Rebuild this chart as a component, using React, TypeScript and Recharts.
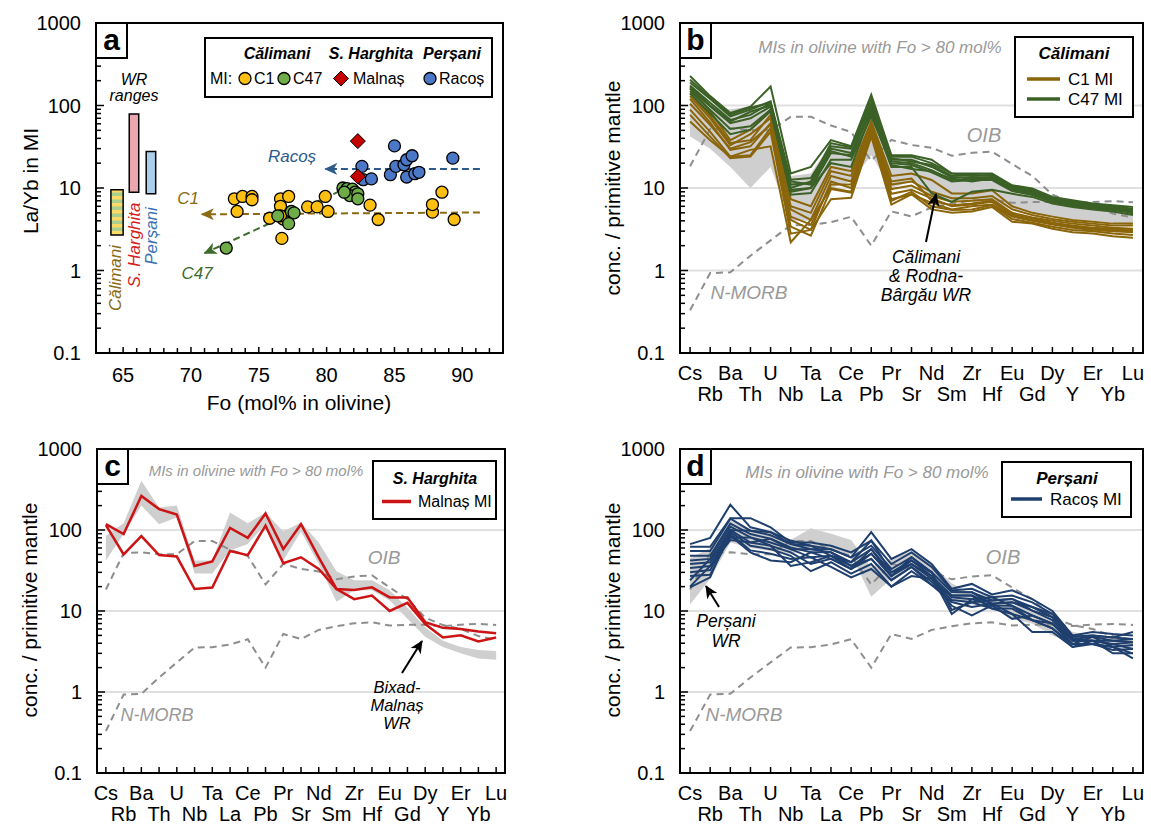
import React from 'react';
import {
  ComposedChart,
  ScatterChart,
  Scatter,
  Line,
  Area,
  XAxis,
  YAxis,
  CartesianGrid,
  ReferenceArea,
  ReferenceLine,
} from 'recharts';

const FONT = '"Liberation Sans", Arial, Helvetica, sans-serif';

// ---------------- Panel a : La/Yb vs Fo ----------------
const C1_FO = [73.2, 73.8, 74.5, 74.5, 73.4, 75.8, 76.6, 76.6, 77.2, 76.8, 76.7, 76.6, 78.6, 79.3, 79.9, 80.1, 83.2, 83.8, 87.8, 87.8, 88.5, 89.4];
const C1_LAYB = [7.4, 7.9, 7.9, 7.2, 5.2, 4.3, 7.4, 6.0, 7.9, 4.2, 2.45, 4.6, 5.9, 5.9, 7.9, 5.2, 6.2, 4.15, 5.1, 6.3, 8.9, 4.15];
const C47_FO = [72.6, 76.4, 77.4, 77.6, 77.2, 81.2, 81.5, 81.9, 82.1, 81.7, 82.3, 82.3, 81.3];
const C47_LAYB = [1.87, 4.6, 5.2, 5.0, 3.7, 10, 9.8, 9.7, 8.9, 8.1, 8.5, 7.4, 8.9];
const MALNAS_FO = [82.3, 82.3];
const MALNAS_LAYB = [37, 13.8];
const RACOS_FO = [82.6, 82.7, 83.3, 85.0, 84.7, 85.1, 85.7, 85.9, 86.3, 85.9, 86.5, 86.8, 89.3];
const RACOS_LAYB = [18.3, 12.6, 12.9, 32.4, 14.5, 18.3, 19.1, 22, 24.6, 13.6, 14.9, 15.5, 23];

// WR ranges: [Fo left, Fo right, La/Yb min, La/Yb max]
const WR_CALIMANI = [64.1, 65.0, 2.7, 9.5];
const WR_SHARGHITA = [65.45, 66.15, 8.9, 79];
const WR_PERSANI = [66.7, 67.4, 8.5, 27.7];

// Trend arrows: [Fo start, La/Yb start, Fo end, La/Yb end]
const TREND_RACOS = [91.3, 17, 79.9, 17];
const TREND_C1 = [91.3, 5.05, 70.8, 4.8];
const TREND_C47 = [81.7, 10.4, 71.0, 1.62];

const FO_TICKS = [64, 65, 66, 67, 68, 69, 70, 71, 72, 73, 74, 75, 76, 77, 78, 79, 80, 81, 82, 83, 84, 85, 86, 87, 88, 89, 90, 91, 92];
const LOG_TICKS = [0.1, 0.2, 0.3, 0.4, 0.5, 0.6, 0.7, 0.8, 0.9, 1, 2, 3, 4, 5, 6, 7, 8, 9, 10, 20, 30, 40, 50, 60, 70, 80, 90, 100, 200, 300, 400, 500, 600, 700, 800, 900, 1000];
const DECADES = [0.1, 1, 10, 100, 1000];
const DECADE_LABELS = ['0.1', '1', '10', '100', '1000'];

// ---------------- Spider diagrams ----------------
const ELEMENTS = ['Cs', 'Rb', 'Ba', 'Th', 'U', 'Nb', 'Ta', 'La', 'Ce', 'Pb', 'Pr', 'Sr', 'Nd', 'Sm', 'Zr', 'Hf', 'Eu', 'Gd', 'Dy', 'Y', 'Er', 'Yb', 'Lu'];
const IDX = [0, 1, 2, 3, 4, 5, 6, 7, 8, 9, 10, 11, 12, 13, 14, 15, 16, 17, 18, 19, 20, 21, 22];
const OIB = [18.4, 51.7, 53, 50.3, 50.2, 72.9, 73, 57.1, 47.8, 21.3, 38.2, 33.2, 30.8, 24.6, 26.7, 27.6, 19.5, 14, 8.3, 6.7, 6.0, 4.9, 4.4];
const NMORB = [0.33, 0.93, 0.95, 1.51, 2.32, 3.54, 3.57, 3.86, 4.48, 2.0, 5.2, 4.52, 5.84, 6.48, 7.05, 7.24, 6.62, 6.76, 6.75, 6.51, 6.78, 6.92, 6.74];

// panel b : Călimani
const B_WR_LO = [42, 30, 18, 10, 18, 4, 4, 10, 12, 25, 10, 12, 8, 7, 7, 7, 5.5, 5, 4.5, 4.2, 4, 3.8, 3.5];
const B_WR_HI = [150, 100, 90, 97, 110, 14, 15, 35, 30, 110, 22, 25, 16, 13, 13, 12, 9.5, 8.5, 7, 6, 6, 5.5, 5.3];
const C1_MI = [
  [162, 85, 38, 51, 89, 7.3, 6, 18, 16, 65, 14, 15, 12.5, 8.6, 8.6, 9.4, 6, 5, 4.5, 4.1, 3.9, 3.7, 3.7],
  [141, 75, 35, 38, 77, 5.5, 4.1, 14, 12, 58, 11, 12, 9, 7.5, 7.5, 8, 5.5, 4.7, 4.2, 3.9, 3.7, 3.5, 3.5],
  [120, 62, 29, 32, 61, 4.1, 3.1, 12, 10, 52, 9.7, 10.7, 8, 6.8, 7, 7.3, 5, 4.4, 4.0, 3.7, 3.5, 3.3, 3.2],
  [89, 48, 24, 25, 53, 3.4, 2.65, 9.7, 8.8, 46, 7.3, 8.4, 6.6, 5.5, 6, 6.3, 4.5, 4.0, 3.6, 3.3, 3.1, 3.0, 2.9],
  [77, 42, 23, 24, 48, 2.8, 3.1, 7.3, 7.6, 42, 6.3, 8.4, 5.5, 5.0, 5.2, 5.9, 3.9, 3.7, 3.2, 2.9, 2.8, 2.6, 2.5],
  [64, 38, 24, 29, 32, 2.2, 4.1, 10, 9, 48, 7, 9, 6, 5.4, 5.5, 6.2, 4.2, 3.8, 3.4, 3.1, 3.0, 2.8, 2.7],
  [130, 70, 33, 45, 70, 6, 5, 16, 14, 60, 12, 13, 7, 6.2, 6.5, 7, 4.8, 4.3, 3.8, 3.5, 3.3, 3.2, 3.1],
  [105, 58, 30, 36, 58, 4.5, 3.6, 11, 11, 50, 8.5, 9.5, 7.5, 6, 6.3, 6.8, 4.6, 4.1, 3.7, 3.4, 3.2, 3.1, 3.0],
];
const C47_MI = [
  [228, 130, 81, 97, 170, 15, 18, 38, 32, 135, 25, 25, 22, 15, 15, 15, 10.8, 9.9, 7.8, 7.1, 6.5, 6.2, 5.9],
  [190, 120, 74, 89, 112, 12.6, 13.2, 32, 30, 107, 24, 24, 20, 15, 14, 14.5, 10.5, 9.5, 7.5, 6.9, 6.3, 6.0, 5.6],
  [175, 108, 67, 77, 107, 11, 11.5, 30, 26.5, 97, 22, 22, 18, 13.5, 13.5, 13.5, 10, 9, 7.2, 6.6, 6.1, 5.8, 5.4],
  [160, 98, 61, 70, 97, 9.5, 10, 26.5, 25, 85, 21, 20, 16.5, 12.5, 13, 12.8, 9.5, 8.5, 7, 6.3, 5.9, 5.6, 5.2],
  [150, 88, 52, 56, 89, 8.3, 8.7, 22, 22, 74, 20, 19, 15.5, 12, 12.5, 12.5, 9.2, 8.2, 6.8, 6.1, 5.7, 5.4, 5.0],
  [140, 80, 45, 51, 85, 9, 10, 20, 18, 80, 18, 18, 8.6, 6.8, 9, 9.5, 8.5, 7.8, 6.5, 5.9, 5.5, 5.2, 4.7],
  [205, 125, 78, 94, 108, 10, 12, 35, 31, 120, 23, 21, 19, 14, 14.5, 14, 10.2, 9.2, 7.4, 6.8, 6.2, 6.0, 5.5],
  [170, 100, 64, 84, 100, 12, 11, 28, 24, 92, 19, 17, 16, 13, 12, 13, 9.8, 8.8, 7.0, 6.4, 6.0, 5.7, 4.9],
];

// panel c : S. Harghita
const C_WR_LO = [42, 89, 200, 118, 143, 29, 29, 56, 67, 118, 42, 96, 38, 13, 18, 18, 13.5, 8, 4.8, 3.6, 3.0, 2.6, 2.5];
const C_WR_HI = [85, 121, 405, 190, 200, 42, 42, 165, 121, 165, 96, 124, 70, 31, 24, 24, 18, 11, 6.3, 4.3, 3.6, 3.3, 3.2];
const MALNAS_MI = [
  [118, 89, 263, 181, 155, 36, 41, 106, 80, 160, 58, 118, 46, 18.7, 18.2, 19.6, 14.7, 14.7, 7.3, 6.2, 6.0, 5.6, 5.3],
  [115, 50, 84, 49, 47, 18.7, 19.5, 55, 49, 113, 39, 46, 33, 18.7, 14, 15.5, 10, 12.6, 6.9, 4.7, 5.0, 4.2, 4.7],
];

// panel d : Perșani
const D_WR_LO = [12, 25, 70, 60, 55, 50, 60, 55, 50, 15, 25, 35, 22, 14, 12, 11, 8, 7, 5, 4, 4, 3.6, 3.5];
const D_WR_HI = [45, 60, 130, 100, 100, 75, 105, 90, 75, 35, 45, 55, 38, 22, 16, 16, 12, 10, 8, 5.5, 5, 4.8, 4.5];
const RACOS_MI = [
  [67, 80, 205, 108, 94, 74, 64, 58, 46, 94, 44, 58, 38, 18.8, 21.6, 16, 18, 14, 10, 5.0, 5.5, 5.2, 5.0],
  [62, 62, 140, 140, 108, 70, 70, 64, 53, 74, 38, 53, 35, 17.9, 18.8, 14.8, 15.5, 12.8, 9.2, 4.8, 5.0, 4.7, 5.5],
  [55, 55, 138, 98, 86, 67, 58, 58, 46, 64, 33, 46, 30, 17.1, 17, 13.5, 14.1, 11.2, 8.4, 4.5, 4.8, 4.3, 4.5],
  [48, 48, 120, 89, 78, 61, 53, 53, 40, 58, 30, 42, 27, 15.5, 15.5, 12.3, 12.8, 10.1, 7.7, 4.3, 4.3, 3.9, 4.1],
  [42, 44, 110, 81, 70, 58, 46, 48, 36, 51, 27, 38, 25, 14.8, 14, 11.7, 11.6, 8.8, 7.0, 3.9, 3.9, 3.6, 3.8],
  [38, 40, 100, 70, 64, 53, 38, 44, 33, 44, 24, 35, 23, 13.7, 12.8, 10.7, 10.7, 7.7, 6.1, 3.6, 3.9, 3.3, 3.4],
  [34, 36, 95, 64, 58, 48, 31, 40, 29, 38, 20, 31, 21, 12.9, 11.2, 12.3, 9.2, 5.5, 5.5, 3.6, 4.3, 3.0, 3.0],
  [30, 32, 90, 56, 51, 44, 46, 35, 26, 33, 20, 27, 25, 11.6, 8.8, 11.7, 8.0, 8.8, 7.0, 3.9, 4.8, 3.6, 2.6],
  [27, 28, 85, 53, 42, 40, 53, 44, 33, 58, 27, 46, 30, 10.3, 12.8, 13.5, 14.1, 10.1, 8.4, 4.5, 4.3, 4.3, 4.1],
  [24, 44, 80, 81, 64, 36, 40, 48, 40, 74, 30, 38, 27, 9.2, 14, 14.8, 11.6, 7.7, 6.1, 3.9, 3.9, 3.6, 3.0],
  [20, 36, 75, 70, 78, 58, 58, 53, 36, 44, 24, 35, 21, 15.5, 15.5, 10.7, 9.2, 7.7, 7.0, 4.3, 4.3, 3.9, 3.4],
  [19.6, 26, 100, 98, 94, 67, 64, 48, 33, 51, 27, 42, 30, 17.1, 17, 12.3, 12.8, 11.2, 9.2, 4.8, 5.0, 4.7, 4.5],
];

// ---------------- colours ----------------
const COL_C1 = '#8a650a';
const COL_C47 = '#3b6126';
const COL_MALNAS = '#cc1414';
const COL_RACOS = '#1f3f6e';
const PT_C1 = '#fdc012';
const PT_C47 = '#6dac47';
const PT_MALNAS = '#c40000';
const PT_RACOS = '#4a78c6';
const GREY_TXT = '#999999';

// ---------------- ticks ----------------
const logTick = (p: any) => {
  const v = p.payload.value;
  const di = DECADES.indexOf(v);
  const major = di >= 0;
  return (
    <g>
      <line x1={p.x} x2={p.x + (major ? 8 : 5)} y1={p.y} y2={p.y} stroke="#000" strokeWidth={1.5} />
      {major && (
        <text x={p.x - 15} y={p.y} dy="0.36em" textAnchor="end" fontSize={20} fontFamily={FONT} fill="#000">
          {DECADE_LABELS[di]}
        </text>
      )}
    </g>
  );
};

const elTick = (p: any) => {
  const i = p.payload.value;
  return (
    <g>
      <line x1={p.x} x2={p.x} y1={p.y} y2={p.y - 6} stroke="#000" strokeWidth={1.5} />
      <text x={p.x} y={p.y + (i % 2 === 0 ? 27 : 48)} textAnchor="middle" fontSize={20} fontFamily={FONT} fill="#000">
        {ELEMENTS[i]}
      </text>
    </g>
  );
};

const foTick = (p: any) => {
  const v = p.payload.value;
  const major = v % 5 === 0;
  return (
    <g>
      <line x1={p.x} x2={p.x} y1={p.y} y2={p.y - (major ? 6 : 5)} stroke="#000" strokeWidth={1.5} />
      {major && (
        <text x={p.x} y={p.y + 29} textAnchor="middle" fontSize={20} fontFamily={FONT} fill="#000">
          {v}
        </text>
      )}
    </g>
  );
};

// ---------------- panel a ----------------
const toPts = (xs: number[], ys: number[]) => xs.map((fo, k) => ({ fo, r: ys[k] }));
const circleShape = (fill: string) => (p: any) =>
  <circle cx={p.cx} cy={p.cy} r={6} fill={fill} stroke="#000" strokeWidth={1.3} />;
const diamondShape = (fill: string) => (p: any) =>
  <path d={`M${p.cx},${p.cy - 7.5} L${p.cx + 7.5},${p.cy} L${p.cx},${p.cy + 7.5} L${p.cx - 7.5},${p.cy} Z`} fill={fill} stroke="#000" strokeWidth={1} />;

function PanelA() {
  const seg = (t: number[]) => [{ x: t[0], y: t[1] }, { x: t[2], y: t[3] }];
  return (
    <div style={{ position: 'absolute', left: 0, top: 0 }}>
      <ScatterChart width={575} height={415} margin={{ top: 23, right: 72, bottom: 0, left: 0 }}>
        <XAxis type="number" dataKey="fo" domain={[63, 93]} allowDataOverflow ticks={FO_TICKS} interval={0} height={62}
          tickSize={0} tickMargin={0} tickLine={false} axisLine={false} tick={foTick} />
        <YAxis type="number" dataKey="r" scale="log" domain={[0.1, 1000]} allowDataOverflow ticks={LOG_TICKS} interval={0} width={96}
          tickSize={0} tickMargin={0} tickLine={false} axisLine={false} tick={logTick} />
        <ReferenceArea x1={WR_CALIMANI[0]} x2={WR_CALIMANI[1]} y1={WR_CALIMANI[2]} y2={WR_CALIMANI[3]}
          fill="url(#calStripes)" fillOpacity={1} stroke="#000" strokeWidth={1.5} ifOverflow="visible" />
        <ReferenceArea x1={WR_SHARGHITA[0]} x2={WR_SHARGHITA[1]} y1={WR_SHARGHITA[2]} y2={WR_SHARGHITA[3]}
          fill="#eaa7b0" fillOpacity={1} stroke="#000" strokeWidth={1.5} ifOverflow="visible" />
        <ReferenceArea x1={WR_PERSANI[0]} x2={WR_PERSANI[1]} y1={WR_PERSANI[2]} y2={WR_PERSANI[3]}
          fill="#a9cfec" fillOpacity={1} stroke="#000" strokeWidth={1.5} ifOverflow="visible" />
        <ReferenceLine segment={seg(TREND_C1)} stroke="#8a6a12" strokeWidth={2} strokeDasharray="7 4" markerEnd="url(#arrC1)" ifOverflow="visible" />
        <ReferenceLine segment={seg(TREND_C47)} stroke="#3e6b2b" strokeWidth={2} strokeDasharray="7 4" markerEnd="url(#arrC47)" ifOverflow="visible" />
        <ReferenceLine segment={seg(TREND_RACOS)} stroke="#2d5a8c" strokeWidth={2} strokeDasharray="7 4" markerEnd="url(#arrRacos)" ifOverflow="visible" />
        <Scatter data={toPts(C1_FO, C1_LAYB)} shape={circleShape(PT_C1)} isAnimationActive={false} />
        <Scatter data={toPts(C47_FO, C47_LAYB)} shape={circleShape(PT_C47)} isAnimationActive={false} />
        <Scatter data={toPts(RACOS_FO, RACOS_LAYB)} shape={circleShape(PT_RACOS)} isAnimationActive={false} />
        <Scatter data={toPts(MALNAS_FO, MALNAS_LAYB)} shape={diamondShape(PT_MALNAS)} isAnimationActive={false} />
        <ReferenceArea x1={63} x2={93} y1={0.1} y2={1000} fill="none" stroke="#000" strokeWidth={2} ifOverflow="visible" />
      </ScatterChart>
    </div>
  );
}

// ---------------- spider panels ----------------
type Group = { prefix: string; rows: number[][]; color: string; width: number };

function buildTable(lo: number[], hi: number[], groups: Group[]) {
  return ELEMENTS.map((el, i) => {
    const row: Record<string, any> = { i, el, oib: OIB[i], nmorb: NMORB[i], band: [lo[i], hi[i]] };
    groups.forEach((g) => g.rows.forEach((r, k) => { row[g.prefix + k] = r[i]; }));
    return row;
  });
}

function Spider(props: { left: number; top: number; h: number; yw: number; mt: number; mr: number; xh: number; lo: number[]; hi: number[]; groups: Group[] }) {
  const { left, top, h, yw, mt, mr, xh, lo, hi, groups } = props;
  const data = buildTable(lo, hi, groups);
  return (
    <div style={{ position: 'absolute', left, top }}>
      <ComposedChart width={575} height={h} data={data} margin={{ top: mt, right: mr, bottom: 0, left: 0 }}>
        <CartesianGrid vertical={false} horizontalValues={[1, 10, 100]} stroke="#e0e0e0" strokeWidth={2} />
        <XAxis type="number" dataKey="i" domain={[-0.5, 22.5]} allowDataOverflow ticks={IDX} interval={0} height={xh}
          tickSize={0} tickMargin={0} tickLine={false} axisLine={false} tick={elTick} />
        <YAxis type="number" scale="log" domain={[0.1, 1000]} allowDataOverflow ticks={LOG_TICKS} interval={0} width={yw}
          tickSize={0} tickMargin={0} tickLine={false} axisLine={false} tick={logTick} />
        <Area dataKey="band" type="linear" fill="#cfcfcf" fillOpacity={1} stroke="none" isAnimationActive={false} activeDot={false} />
        <Line dataKey="oib" type="linear" stroke="#8e8e8e" strokeWidth={2} strokeDasharray="7 5" dot={false} activeDot={false} isAnimationActive={false} />
        <Line dataKey="nmorb" type="linear" stroke="#8e8e8e" strokeWidth={2} strokeDasharray="7 5" dot={false} activeDot={false} isAnimationActive={false} />
        {groups.flatMap((g) =>
          g.rows.map((_, k) => (
            <Line key={g.prefix + k} dataKey={g.prefix + k} type="linear" stroke={g.color} strokeWidth={g.width}
              dot={false} activeDot={false} isAnimationActive={false} />
          ))
        )}
        <ReferenceArea x1={-0.5} x2={22.5} y1={0.1} y2={1000} fill="none" stroke="#000" strokeWidth={2} ifOverflow="visible" />
      </ComposedChart>
    </div>
  );
}

// ---------------- overlay (titles, legends, notes) ----------------
const T = (p: any) => <text fontFamily={FONT} fill="#000" {...p} />;

function PanelTag({ x, y, s }: { x: number; y: number; s: string }) {
  return (
    <g>
      <rect x={x} y={y} width={31} height={35} fill="#fff" stroke="#000" strokeWidth={2} />
      <T x={x + 15.5} y={y + 27} textAnchor="middle" fontSize={30} fontWeight="bold">{s}</T>
    </g>
  );
}

function Arrow({ x1, y1, x2, y2, id }: any) {
  return <line x1={x1} y1={y1} x2={x2} y2={y2} stroke="#000" strokeWidth={2} markerEnd={`url(#${id})`} />;
}

function Overlay() {
  const mi = 'MIs in olivine with Fo > 80 mol%';
  return (
    <svg width={1151} height={830} style={{ position: 'absolute', left: 0, top: 0, pointerEvents: 'none' }}>
      {/* panel a */}
      <PanelTag x={96} y={23} s="a" />
      <T x={31} y={181} transform="rotate(-90 31 181)" textAnchor="middle" dy="0.35em" fontSize={21}>La/Yb in MI</T>
      <T x={299} y={410} textAnchor="middle" fontSize={21}>Fo (mol% in olivine)</T>
      <T x={134} y={85} textAnchor="middle" fontSize={16} fontStyle="italic">WR</T>
      <T x={134} y={101} textAnchor="middle" fontSize={16} fontStyle="italic">ranges</T>
      <T x={115.5} y={278} transform="rotate(-90 115.5 278)" textAnchor="middle" dy="0.35em" fontSize={17} fontStyle="italic" fill="#8a6a12">Călimani</T>
      <T x={134} y={245} transform="rotate(-90 134 245)" textAnchor="middle" dy="0.35em" fontSize={17} fontStyle="italic" fill="#d42020">S. Harghita</T>
      <T x={151.5} y={236} transform="rotate(-90 151.5 236)" textAnchor="middle" dy="0.35em" fontSize={17} fontStyle="italic" fill="#3b6fb3">Perșani</T>
      <T x={292} y={162} textAnchor="middle" fontSize={17} fontStyle="italic" fill="#2d5a8c">Racoș</T>
      <T x={188} y={204} textAnchor="middle" fontSize={17} fontStyle="italic" fill="#8a6a12">C1</T>
      <T x={197} y={279} textAnchor="middle" fontSize={17} fontStyle="italic" fill="#3e6b2b">C47</T>
      <rect x={205} y={38} width={287} height={59} fill="#fff" stroke="#000" strokeWidth={2} />
      <T x={277} y={59} textAnchor="middle" fontSize={16} fontWeight="bold" fontStyle="italic">Călimani</T>
      <T x={371} y={59} textAnchor="middle" fontSize={16} fontWeight="bold" fontStyle="italic">S. Harghita</T>
      <T x={452} y={59} textAnchor="middle" fontSize={16} fontWeight="bold" fontStyle="italic">Perșani</T>
      <T x={210} y={84} fontSize={16}>MI:</T>
      <circle cx={245} cy={78.5} r={6} fill={PT_C1} stroke="#000" strokeWidth={1.3} />
      <T x={254} y={84} fontSize={16}>C1</T>
      <circle cx={284} cy={78.5} r={6} fill={PT_C47} stroke="#000" strokeWidth={1.3} />
      <T x={293} y={84} fontSize={16}>C47</T>
      <path d="M341,71 L348.5,78.5 L341,86 L333.5,78.5 Z" fill={PT_MALNAS} stroke="#000" strokeWidth={1} />
      <T x={353} y={84} fontSize={16}>Malnaș</T>
      <circle cx={430} cy={78.5} r={6} fill={PT_RACOS} stroke="#000" strokeWidth={1.3} />
      <T x={439} y={84} fontSize={16}>Racoș</T>

      {/* panel b */}
      <PanelTag x={680} y={23} s="b" />
      <T x={613} y={188} transform="rotate(-90 613 188)" textAnchor="middle" dy="0.35em" fontSize={21}>conc. / primitive mantle</T>
      <T x={880} y={53} textAnchor="middle" fontSize={17} fontStyle="italic" fill={GREY_TXT}>{mi}</T>
      <rect x={1015} y={37} width={118} height={80} fill="#fff" stroke="#000" strokeWidth={2} />
      <T x={1074} y={59} textAnchor="middle" fontSize={17} fontWeight="bold" fontStyle="italic">Călimani</T>
      <line x1={1027} x2={1060} y1={79} y2={79} stroke={COL_C1} strokeWidth={3.5} />
      <T x={1068} y={85} fontSize={17}>C1 MI</T>
      <line x1={1027} x2={1060} y1={99} y2={99} stroke={COL_C47} strokeWidth={3.5} />
      <T x={1068} y={105} fontSize={17}>C47 MI</T>
      <T x={984} y={142} textAnchor="middle" fontSize={20} fontStyle="italic" fill={GREY_TXT}>OIB</T>
      <T x={749} y={299} textAnchor="middle" fontSize={19} fontStyle="italic" fill={GREY_TXT}>N-MORB</T>
      <T x={926} y={263} textAnchor="middle" fontSize={17.5} fontStyle="italic">Călimani</T>
      <T x={926} y={282} textAnchor="middle" fontSize={17.5} fontStyle="italic">&amp; Rodna-</T>
      <T x={926} y={301} textAnchor="middle" fontSize={17.5} fontStyle="italic">Bârgău WR</T>
      <Arrow x1={926} y1={242} x2={936} y2={194} id="arrBlack" />

      {/* panel c */}
      <PanelTag x={97} y={449} s="c" />
      <T x={30} y={610} transform="rotate(-90 30 610)" textAnchor="middle" dy="0.35em" fontSize={21}>conc. / primitive mantle</T>
      <T x={256} y={476} textAnchor="middle" fontSize={15} fontStyle="italic" fill={GREY_TXT}>{mi}</T>
      <rect x={373} y={461} width={123} height={58} fill="#fff" stroke="#000" strokeWidth={2} />
      <T x={435} y={484} textAnchor="middle" fontSize={16} fontWeight="bold" fontStyle="italic">S. Harghita</T>
      <line x1={382} x2={411} y1={501.5} y2={501.5} stroke={COL_MALNAS} strokeWidth={3.5} />
      <T x={418} y={507} fontSize={16}>Malnaș MI</T>
      <T x={384} y={564} textAnchor="middle" fontSize={19} fontStyle="italic" fill={GREY_TXT}>OIB</T>
      <T x={157} y={721} textAnchor="middle" fontSize={18} fontStyle="italic" fill={GREY_TXT}>N-MORB</T>
      <T x={397} y={693} textAnchor="middle" fontSize={16.5} fontStyle="italic">Bixad-</T>
      <T x={397} y={711} textAnchor="middle" fontSize={16.5} fontStyle="italic">Malnaș</T>
      <T x={397} y={729} textAnchor="middle" fontSize={16.5} fontStyle="italic">WR</T>
      <Arrow x1={402} y1={673} x2={422} y2={641} id="arrBlack" />

      {/* panel d */}
      <PanelTag x={680} y={449} s="d" />
      <T x={613} y={610} transform="rotate(-90 613 610)" textAnchor="middle" dy="0.35em" fontSize={21}>conc. / primitive mantle</T>
      <T x={867} y={478} textAnchor="middle" fontSize={17} fontStyle="italic" fill={GREY_TXT}>{mi}</T>
      <rect x={1002} y={462} width={129} height={55} fill="#fff" stroke="#000" strokeWidth={2} />
      <T x={1067} y={484} textAnchor="middle" fontSize={17} fontWeight="bold" fontStyle="italic">Perșani</T>
      <line x1={1011} x2={1042} y1={499} y2={499} stroke={COL_RACOS} strokeWidth={3.5} />
      <T x={1050} y={505} fontSize={17}>Racoș MI</T>
      <T x={1003} y={564} textAnchor="middle" fontSize={20} fontStyle="italic" fill={GREY_TXT}>OIB</T>
      <T x={744} y={721} textAnchor="middle" fontSize={19} fontStyle="italic" fill={GREY_TXT}>N-MORB</T>
      <T x={726} y={627} textAnchor="middle" fontSize={17.5} fontStyle="italic">Perșani</T>
      <T x={726} y={647} textAnchor="middle" fontSize={17.5} fontStyle="italic">WR</T>
      <Arrow x1={719} y1={607} x2={706} y2={586} id="arrBlack" />
    </svg>
  );
}

function Defs() {
  const head = (id: string, color: string) => (
    <marker id={id} markerUnits="userSpaceOnUse" markerWidth={14} markerHeight={12} refX={12} refY={6} orient="auto">
      <path d="M0,0 L13,6 L0,12 L3.5,6 Z" fill={color} />
    </marker>
  );
  return (
    <svg width={0} height={0} style={{ position: 'absolute', left: 0, top: 0 }}>
      <defs>
        <pattern id="calStripes" patternUnits="userSpaceOnUse" width={7} height={7}>
          <rect x={0} y={0} width={7} height={7} fill="#ffd966" />
          <rect x={0} y={3.5} width={7} height={3.5} fill="#a9d08e" />
        </pattern>
        {head('arrC1', '#8a6a12')}
        {head('arrC47', '#3e6b2b')}
        {head('arrRacos', '#2d5a8c')}
        {head('arrBlack', '#000')}
      </defs>
    </svg>
  );
}

export default function App() {
  return (
    <div style={{ position: 'absolute', left: 0, top: 0, width: 1151, height: 830, background: '#fff', fontFamily: FONT }}>
      <Defs />
      <PanelA />
      <Spider left={576} top={0} h={415} yw={104} mt={23} mr={8} xh={62} lo={B_WR_LO} hi={B_WR_HI}
        groups={[
          { prefix: 'c1_', rows: C1_MI, color: COL_C1, width: 2 },
          { prefix: 'c47_', rows: C47_MI, color: COL_C47, width: 2 },
        ]} />
      <Spider left={0} top={420} h={410} yw={97} mt={29} mr={70} xh={57} lo={C_WR_LO} hi={C_WR_HI}
        groups={[{ prefix: 'mal_', rows: MALNAS_MI, color: COL_MALNAS, width: 2.5 }]} />
      <Spider left={576} top={420} h={410} yw={104} mt={29} mr={8} xh={57} lo={D_WR_LO} hi={D_WR_HI}
        groups={[{ prefix: 'rac_', rows: RACOS_MI, color: COL_RACOS, width: 2 }]} />
      <Overlay />
    </div>
  );
}
